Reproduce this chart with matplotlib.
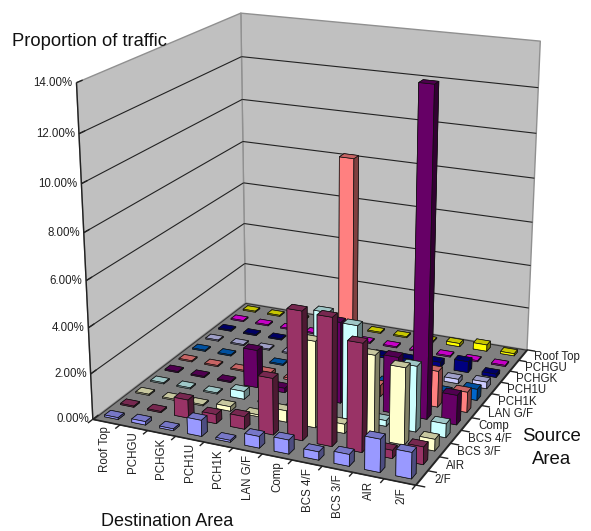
import numpy as np
import matplotlib
matplotlib.use('Agg')
import matplotlib.pyplot as plt
from mpl_toolkits.mplot3d.art3d import Poly3DCollection, Line3DCollection

plt.rcParams['font.family'] = ['Liberation Sans', 'DejaVu Sans']

# Destination runs along the front edge, source goes from front to back
destinations = ['Roof Top', 'PCHGU', 'PCHGK', 'PCH1U', 'PCH1K', 'LAN G/F',
                'Comp', 'BCS 4/F', 'BCS 3/F', 'AIR', '2/F']
sources = ['2/F', 'AIR', 'BCS 3/F', 'BCS 4/F', 'Comp', 'LAN G/F',
           'PCH1K', 'PCH1U', 'PCHGK', 'PCHGU', 'Roof Top']

# Proportion of traffic in percent, one list per source area
from_2f = [0.08, 0.15, 0.08, 0.70, 0.08, 0.50, 0.60, 0.35, 0.50, 1.40, 1.10]
from_air = [0.05, 0.05, 0.80, 0.40, 0.55, 2.45, 5.50, 5.45, 4.60, 0.35, 0.75]
from_bcs3 = [0.05, 0.05, 0.05, 0.20, 0.08, 0.50, 3.75, 0.40, 3.60, 3.30, 0.50]
from_bcs4 = [0.05, 0.05, 0.05, 0.35, 0.05, 0.10, 4.50, 4.15, 0.25, 2.85, 0.60]
from_comp = [0.05, 0.05, 0.05, 1.70, 0.20, 0.30, 3.60, 0.30, 2.50, 13.95, 1.30]
from_lan = [0.05, 0.05, 0.05, 0.15, 0.08, 0.10, 10.20, 0.50, 0.10, 1.60, 0.90]
from_pch1k = [0.05, 0.05, 0.05, 0.05, 0.05, 0.05, 0.10, 0.10, 0.20, 0.15, 0.50]
from_pch1u = [0.05, 0.05, 0.05, 0.05, 0.05, 0.05, 0.05, 0.05, 0.10, 0.20, 0.30]
from_pchgk = [0.05, 0.05, 0.05, 0.05, 0.05, 0.05, 0.10, 0.15, 0.25, 0.50, 0.15]
from_pchgu = [0.05, 0.05, 0.05, 0.05, 0.05, 0.05, 0.05, 0.05, 0.05, 0.05, 0.05]
from_roof = [0.05, 0.05, 0.05, 0.05, 0.05, 0.05, 0.05, 0.05, 0.15, 0.30, 0.10]
values = [from_2f, from_air, from_bcs3, from_bcs4, from_comp, from_lan,
          from_pch1k, from_pch1u, from_pchgk, from_pchgu, from_roof]

source_colors = ['#9999FF', '#993366', '#FFFFCC', '#CCFFFF', '#660066', '#FF8080',
                 '#0066CC', '#CCCCFF', '#000080', '#FF00FF', '#FFFF00']
z_ticks = [0, 2, 4, 6, 8, 10, 12, 14]

nx = len(destinations)
ny = len(sources)
z_top = z_ticks[-1]

# Camera calibration: box corners and where they sit in the picture
corners = [(0, 0, 0), (nx, 0, 0), (nx, ny, 0), (0, ny, 0),
           (0, 0, z_top), (0, ny, z_top), (nx, ny, z_top)]
corner_pixels = [(93, 419), (416, 485), (527, 350), (245, 303),
                 (76, 83), (241.5, 13), (540, 41)]


def fit_camera(points, pixels):
    rows = []
    for (x, y, z), (u, v) in zip(points, pixels):
        rows.append([x, y, z, 1, 0, 0, 0, 0, -u * x, -u * y, -u * z, -u])
        rows.append([0, 0, 0, 0, x, y, z, 1, -v * x, -v * y, -v * z, -v])
    p = np.linalg.svd(np.array(rows, dtype=float))[2][-1].reshape(3, 4)
    return p / (p[2] @ np.array([nx / 2, ny / 2, z_top / 2, 1]))


W, H = 591, 531
fig = plt.figure(figsize=(W / 100, H / 100), dpi=100)
ax = fig.add_axes([0, 0, 1, 1], projection='3d', computed_zorder=False)
ax.set_axis_off()
ax.apply_aspect = lambda position=None: None

# mplot3d normally builds this matrix from elev/azim, here it comes from the fit
P = fit_camera(corners, corner_pixels)
vx0, vx1 = ax.viewLim.intervalx
vy0, vy1 = ax.viewLim.intervaly
row_u = (vx0 * P[2] + (vx1 - vx0) * P[0] / W)
row_v = (vy1 * P[2] - (vy1 - vy0) * P[1] / H)
row_d = np.array([-1.0, 1.0, -0.3, 0.0]) * 0.01 + P[2] * 0.5
M = np.array([row_u, row_v, row_d, P[2]])
ax.get_proj = lambda: M


def to_pixel(x, y, z):
    h = P @ np.array([x, y, z, 1.0])
    return h[0] / h[2], h[1] / h[2]


def label(px, py, s, **kw):
    return fig.text(px / W, 1 - py / H, s, **kw)


def shade(color, k):
    return tuple(np.array(matplotlib.colors.to_rgb(color)) * k)


# walls and floor
wall = '#C0C0C0'
ax.add_collection3d(Poly3DCollection(
    [[(0, 0, 0), (0, ny, 0), (0, ny, z_top), (0, 0, z_top)],
     [(0, ny, 0), (nx, ny, 0), (nx, ny, z_top), (0, ny, z_top)]],
    facecolor=wall, edgecolor='#909090', linewidth=1.0, zorder=1))
ax.add_collection3d(Poly3DCollection(
    [[(0, 0, 0), (nx, 0, 0), (nx, ny, 0), (0, ny, 0)]],
    facecolor='#808080', edgecolor='#333333', linewidth=0.8, zorder=2))

# gridlines, ticks and box edges
grid_segs = []
for z in z_ticks[1:-1]:
    grid_segs.append([(0, 0, z), (0, ny, z)])
    grid_segs.append([(0, ny, z), (nx, ny, z)])
ax.add_collection3d(Line3DCollection(grid_segs, colors='#222222', linewidths=0.8, zorder=3))

edge_segs = [[(0, 0, 0), (0, 0, z_top)], [(0, 0, 0), (nx, 0, 0)], [(nx, 0, 0), (nx, ny, 0)]]
for z in z_ticks:
    edge_segs.append([(0, 0, z), (0, 0.35, z)])
for i in range(nx + 1):
    edge_segs.append([(i, 0, 0), (i, -0.3, 0)])
for j in range(ny + 1):
    edge_segs.append([(nx, j, 0), (nx + 0.3, j, 0)])
ax.add_collection3d(Line3DCollection(edge_segs, colors='#222222', linewidths=1.0, zorder=4))

# tick labels are placed in picture space so they stay upright
for z in z_ticks:
    px, py = to_pixel(0, 0, z)
    label(px - 4, py, f'{z:.2f}%', ha='right', va='center', fontsize=8.3, color='#222222')
for i, name in enumerate(destinations):
    px, py = to_pixel(i + 0.5, -0.55, 0)
    label(px + 8, py - 3, name, rotation=90, ha='center', va='top', fontsize=8.3, color='#222222')
for j, name in enumerate(sources):
    px, py = to_pixel(nx + 0.4, j + 0.5, 0)
    label(px, py, name, ha='left', va='center', fontsize=8.3, color='#222222')

# bars, painted from the back corner forwards
width = 0.5
depth = 0.38
order = 10
for j in range(ny - 1, -1, -1):
    base = source_colors[j]
    for i in range(nx):
        faces = [shade(base, 0.5), shade(base, 0.78), base,
                 shade(base, 0.5), shade(base, 0.5), shade(base, 0.5)]
        ax.bar3d(i + 0.5 - width / 2, j + 0.5 - depth / 2, 0, width, depth, values[j][i],
                 color=faces, shade=False, edgecolor='#111111', linewidth=0.5, zorder=order)
        order += 1

label(12, 42, 'Proportion of traffic', fontsize=13.2, va='center', color='#111111')
label(167, 522, 'Destination Area', fontsize=13, ha='center', va='center', color='#111111')
label(552, 448, 'Source\nArea', fontsize=13.4, ha='center', va='center',
      color='#111111', linespacing=1.4)

fig.savefig('out.png', dpi=100)
